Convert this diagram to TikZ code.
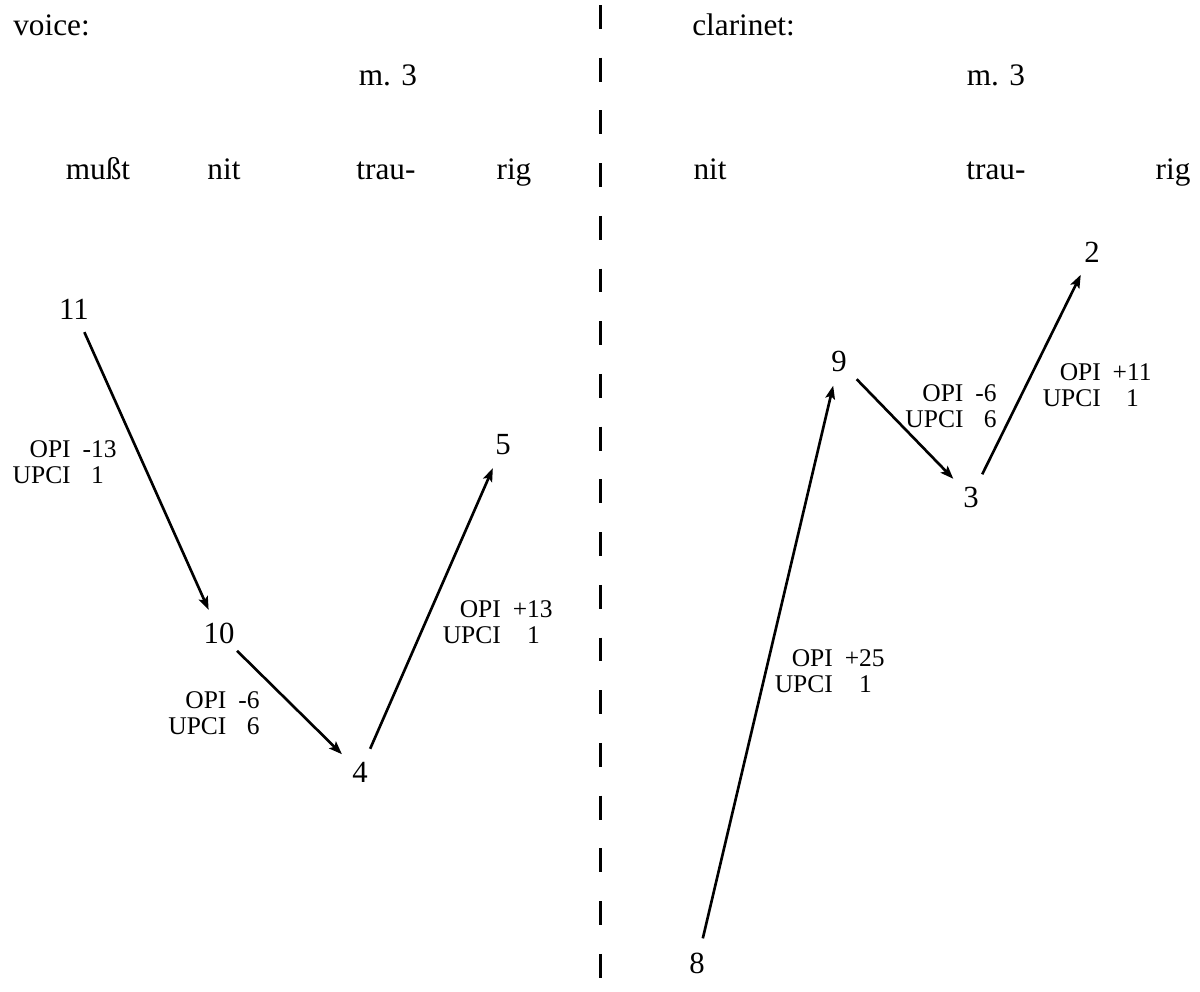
\documentclass[tikz,border=0pt]{standalone}
\usepackage{fontspec}
\setmainfont{Liberation Serif}
\usetikzlibrary{arrows.meta}

\newcommand{\intv}[2]{\begin{tabular}{@{}r@{\hspace{6.8pt}}r@{}}OPI & #1\\UPCI & #2\end{tabular}}

\begin{document}
\begin{tikzpicture}[
    x=0.02cm, y=-0.02cm,
    pc/.style={circle, minimum size=1cm, inner sep=0pt, font=\fontsize{17.5}{21}\selectfont},
    word/.style={anchor=base, inner sep=0pt, font=\fontsize{17.8}{21}\selectfont},
    head/.style={anchor=base west, inner sep=0pt, font=\fontsize{17.8}{21}\selectfont},
    lbl/.style={anchor=east, inner sep=0pt, font=\fontsize{14.5}{14.7}\selectfont},
    edge/.style={line width=1.5pt, -{Stealth[length=7.5pt,width=5.5pt,inset=1.5pt]}},
    divider/.style={line width=1.7pt, dash pattern=on 13.6pt off 16.4pt}
]
\useasboundingbox (0,0) rectangle (1200,991);

% voice
\node[head] (voice) at (13,35) {voice:};
\node[word] (m3a) at (388,85) {m. 3};
\node[word] (w1) at (98,179) {mußt};
\node[word] (w2) at (224,179) {nit};
\node[word] (w3) at (386,179) {trau-};
\node[word] (w4) at (514,179) {rig};

\node[pc] (11) at (74,309) {11};
\node[pc] (10) at (219,633) {10};
\node[pc] (4) at (360,772) {4};
\node[pc] (5) at (503,445) {5};

\draw[edge] (11) -- (10);
\draw[edge] (10) -- (4);
\draw[edge] (4) -- (5);

\node[lbl] (i1) at (117,465) {\intv{-13}{1\phantom{3}}};
\node[lbl] (i2) at (260,716) {\intv{-6}{6}};
\node[lbl] (i3) at (553,625) {\intv{+13}{1\phantom{3}}};

% divider
\coordinate (top) at (600,5);
\coordinate (bot) at (600,991);
\draw[divider] (top) -- (bot);

% clarinet
\node[head] (clar) at (692,35) {clarinet:};
\node[word] (m3b) at (996,85) {m. 3};
\node[word] (w5) at (710,179) {nit};
\node[word] (w6) at (996,179) {trau-};
\node[word] (w7) at (1173,179) {rig};

\node[pc] (8) at (697,963) {8};
\node[pc] (9) at (839,361) {9};
\node[pc] (3) at (971,497) {3};
\node[pc] (2) at (1092,252) {2};

\draw[edge] (8) -- (9);
\draw[edge] (9) -- (3);
\draw[edge] (3) -- (2);

\node[lbl] (i4) at (885,674) {\intv{+25}{1\phantom{5}}};
\node[lbl] (i5) at (997,409) {\intv{-6}{6}};
\node[lbl] (i6) at (1152,388) {\intv{+11}{1\phantom{1}}};

\end{tikzpicture}
\end{document}
